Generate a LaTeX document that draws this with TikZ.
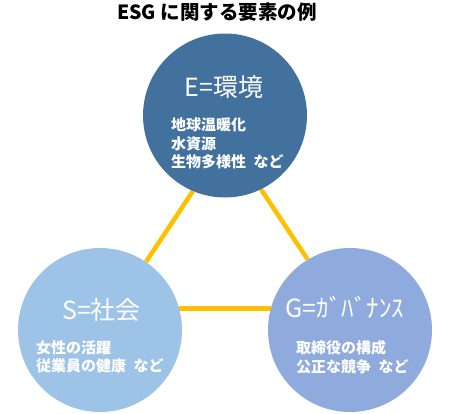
\documentclass[tikz,border=0pt]{standalone}
\usepackage{fontspec}
\setmainfont{Noto Sans CJK JP}
\usetikzlibrary{backgrounds}
\definecolor{envblue}{RGB}{65,113,156}
\definecolor{socblue}{RGB}{157,195,230}
\definecolor{govblue}{RGB}{143,170,220}
\definecolor{linkgold}{RGB}{255,192,0}

\begin{document}
\begin{tikzpicture}[x=1pt,y=-1pt, line join=round,
  ball/.style={circle,inner sep=0pt,minimum size=2*\rad pt},
  head/.style={text=white,inner sep=0pt,font=\fontsize{25}{25}\selectfont},
  body/.style={text=white,inner sep=0pt,anchor=west,align=left,font=\fontsize{15}{18.5}\selectfont\bfseries},
  link/.style={draw=linkgold,line width=4.5pt}]
        \def\rad{82}
        \useasboundingbox (0,0) rectangle (450,413);
        \node (title) at (217,12) {\fontsize{19.5}{19.5}\selectfont\bfseries ESG に関する要素の例};
        % three circles
        \node[ball,fill=envblue] (e) at (225,115.5) {};
        \node[ball,fill=socblue] (s) at (100,330) {};
        \node[ball,fill=govblue] (g) at (350,330) {};
        \node[head] (ehead) at (224,87) {E=環境};
        \node[head] (shead) at (101.5,310) {S=社会};
        \node[head] (ghead) at (345,307) {G=ｶﾞﾊﾞﾅﾝｽ};
        \node[body] (ebody) at (171,143.5) {地球温暖化\\水資源\\生物多様性\hspace{.5em}など};
        \node[body] (sbody) at (36,357) {女性の活躍\\従業員の健康\hspace{.5em}など};
        \node[body] (gbody) at (296,357) {取締役の構成\\公正な競争\hspace{.5em}など};
        \begin{scope}[on background layer]
        \draw[link] (e.247) -- (s.56);
        \draw[link] (e.296) -- (g.121);
        \draw[link] (s.15) -- (g.165);
        \end{scope}
\end{tikzpicture}
\end{document}
